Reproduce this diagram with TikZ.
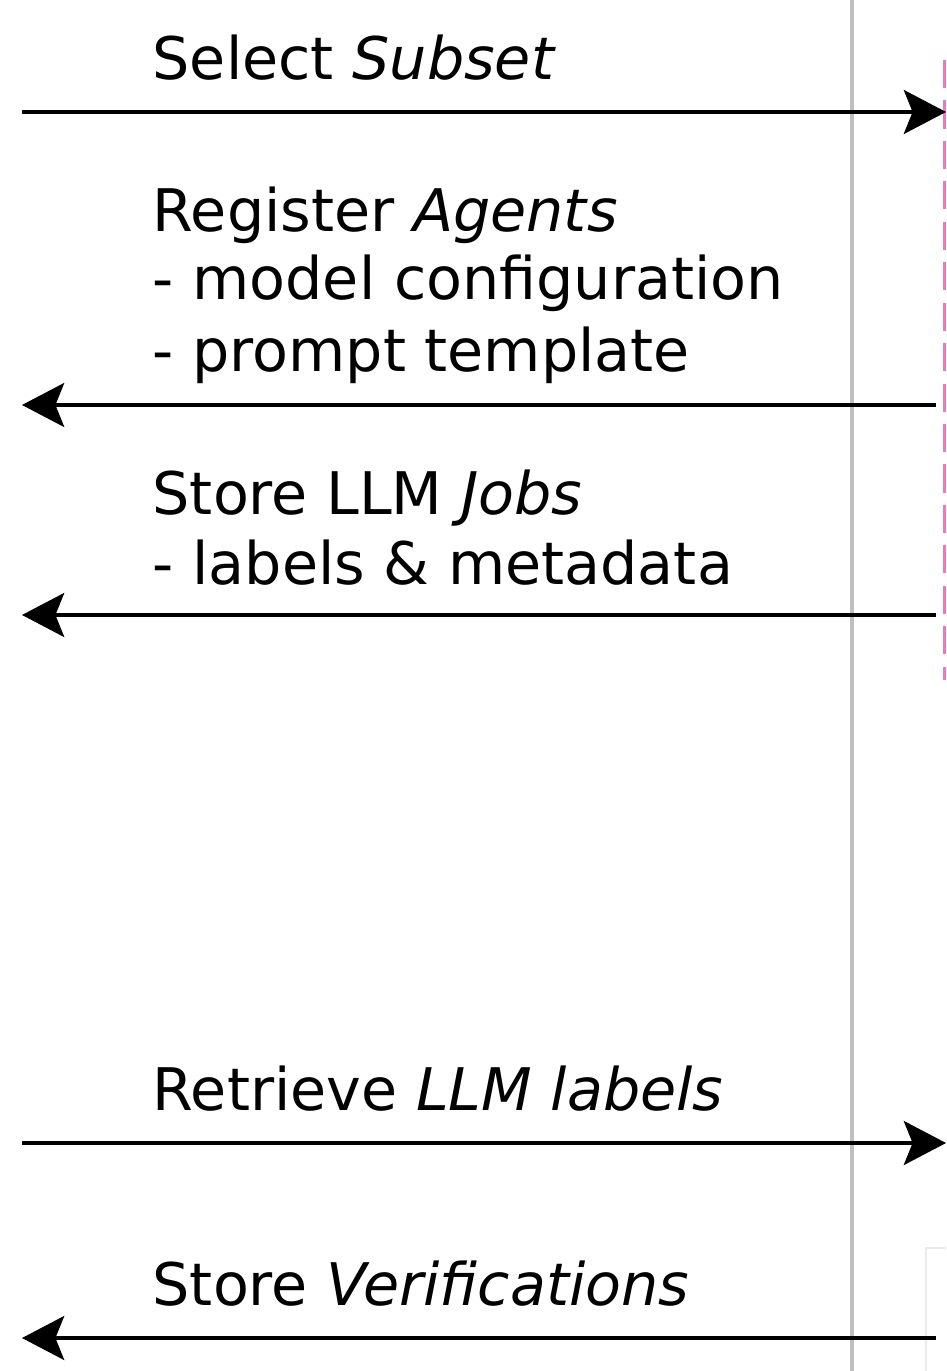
\documentclass[tikz,border=0pt]{standalone}
\usepackage{fontspec}
\setmainfont{DejaVu Sans}
\usetikzlibrary{arrows.meta}

\begin{document}
\begin{tikzpicture}[x=0.01cm, y=0.01cm]
\tikzstyle{every node}+=[inner sep=0pt, anchor=base west, font=\fontsize{16.7}{20}\selectfont]
\tikzset{msg/.style={black, line width=1.05pt, -{Stealth[length=12pt, width=12.5pt, inset=2.5pt]}}}
\useasboundingbox (0,0) rectangle (946,-1371);
% lifelines
\draw [black!25, line width=1.1pt] (852,0) -- (852,-1371);
\draw [magenta!55, line width=0.6pt, dash pattern=on 8pt off 3.5pt] (944.5,-60) -- (944.5,-680);
\draw [black!8, line width=0.4pt] (946,-1248) -- (926,-1248) -- (926,-1371);
% end points of the messages
\coordinate (l1) at (22,-112);
\coordinate (r1) at (946,-112);
\coordinate (l2) at (22,-405);
\coordinate (r2) at (936,-405);
\coordinate (l3) at (22,-615);
\coordinate (r3) at (936,-615);
\coordinate (l4) at (22,-1143);
\coordinate (r4) at (946,-1143);
\coordinate (l5) at (22,-1338);
\coordinate (r5) at (936,-1338);
% messages
\node (subset) at (152,-80) {Select \textit{Subset}};
\draw [msg] (l1) -- (r1);
\node (agents) at (152,-232) {Register \textit{Agents}};
\node (config) at (152,-300) {- model configuration};
\node (prompt) at (152,-372) {- prompt template};
\draw [msg] (r2) -- (l2);
\node (jobs) at (152,-515) {Store LLM \textit{Jobs}};
\node (meta) at (152,-585) {- labels \& metadata};
\draw [msg] (r3) -- (l3);
\node (labels) at (152,-1110) {Retrieve \textit{LLM labels}};
\draw [msg] (l4) -- (r4);
\node (verif) at (152,-1305) {Store \textit{Verifications}};
\draw [msg] (r5) -- (l5);
\end{tikzpicture}
\end{document}
